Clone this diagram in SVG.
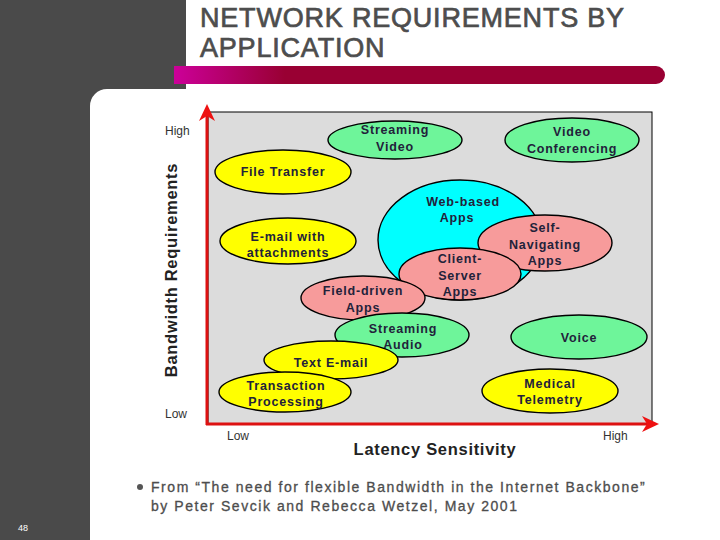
<svg xmlns="http://www.w3.org/2000/svg" width="720" height="540" viewBox="0 0 720 540">
<defs>
<linearGradient id="bar" gradientUnits="userSpaceOnUse" x1="174" y1="0" x2="285" y2="0">
<stop offset="0" stop-color="#cc0099"/>
<stop offset="1" stop-color="#990033"/>
</linearGradient>
<style>
.g{fill:#6ef59a}.y{fill:#ffff00}.c{fill:#00ffff}.p{fill:#f79b9b}
ellipse{stroke:#000;stroke-width:1.4}
.lb{font-family:"Liberation Sans",Arial,sans-serif;font-weight:bold;font-size:12.5px;letter-spacing:0.8px;fill:#22223a;text-anchor:middle}
.ax{font-family:"Liberation Sans",Arial,sans-serif;font-size:12px;fill:#333}
.at{font-family:"Liberation Sans",Arial,sans-serif;font-weight:bold;font-size:16.5px;letter-spacing:0.7px;fill:#222}
.ti{font-family:"Liberation Sans",Arial,sans-serif;font-size:27px;letter-spacing:0.8px;fill:#4d4d4d;stroke:#4d4d4d;stroke-width:0.7}
.ft{font-family:"Liberation Sans",Arial,sans-serif;font-size:14px;letter-spacing:1.55px;fill:#4d4d4d;stroke:#4d4d4d;stroke-width:0.3}
</style>
</defs>
<rect width="720" height="540" fill="#fff"/>
<path d="M0 0H186V89H107A17 17 0 0 0 90 106V540H0Z" fill="#4a4a4a"/>
<text class="ti" x="200" y="27">NETWORK REQUIREMENTS BY</text>
<text class="ti" x="200" y="57">APPLICATION</text>
<path d="M174 66H656A9 9 0 0 1 656 84H174Z" fill="url(#bar)"/>
<rect x="208" y="112" width="444" height="312" fill="#dcdcdc" stroke="#000" stroke-width="1"/>
<g id="axes">
<line x1="207" y1="425" x2="207" y2="114" stroke="#dd1111" stroke-width="3"/>
<line x1="206" y1="424" x2="648" y2="424" stroke="#dd1111" stroke-width="3"/>
<polygon points="207,104 215,121 207,116 199,121" fill="#ee1111"/>
<polygon points="659,424 642,416 647,424 642,432" fill="#ee1111"/>
</g>
<text class="ax" x="165" y="135">High</text>
<text class="ax" x="165" y="418">Low</text>
<text class="ax" x="227" y="440">Low</text>
<text class="ax" x="603" y="440">High</text>
<text class="at" transform="translate(177 270) rotate(-90)" text-anchor="middle">Bandwidth Requirements</text>
<text class="at" x="435" y="455" text-anchor="middle">Latency Sensitivity</text>
<g id="streaming-video"><ellipse class="g" cx="395" cy="140" rx="67" ry="19"/><text class="lb" x="395" y="134">Streaming</text><text class="lb" x="395" y="151">Video</text></g>
<g id="video-conferencing"><ellipse class="g" cx="572" cy="140" rx="67" ry="22"/><text class="lb" x="572" y="136">Video</text><text class="lb" x="572" y="153">Conferencing</text></g>
<g id="file-transfer"><ellipse class="y" cx="283" cy="172" rx="68" ry="22"/><text class="lb" x="283" y="176">File Transfer</text></g>
<g id="email-attachments"><ellipse class="y" cx="288" cy="241" rx="68" ry="23"/><text class="lb" x="288" y="241">E-mail with</text><text class="lb" x="288" y="257">attachments</text></g>
<g id="web-based"><ellipse class="c" cx="460" cy="240" rx="82" ry="60"/><text class="lb" x="463" y="206">Web-based</text><text class="lb" x="457" y="222">Apps</text></g>
<g id="self-navigating"><ellipse class="p" cx="545" cy="243" rx="67" ry="28"/><text class="lb" x="545" y="232">Self-</text><text class="lb" x="545" y="249">Navigating</text><text class="lb" x="545" y="265">Apps</text></g>
<g id="client-server"><ellipse class="p" cx="460" cy="274" rx="61" ry="26"/><text class="lb" x="460" y="263">Client-</text><text class="lb" x="460" y="280">Server</text><text class="lb" x="460" y="296">Apps</text></g>
<g id="field-driven"><ellipse class="p" cx="363" cy="298" rx="62" ry="22"/><text class="lb" x="363" y="295">Field-driven</text><text class="lb" x="363" y="312">Apps</text></g>
<g id="streaming-audio"><ellipse class="g" cx="402" cy="335" rx="67" ry="22"/><text class="lb" x="403" y="333">Streaming</text><text class="lb" x="403" y="349">Audio</text></g>
<g id="text-email"><ellipse class="y" cx="331" cy="360" rx="67" ry="19"/><text class="lb" x="331" y="367">Text E-mail</text></g>
<g id="transaction"><ellipse class="y" cx="285" cy="392" rx="66" ry="20"/><text class="lb" x="286" y="390">Transaction</text><text class="lb" x="286" y="406">Processing</text></g>
<g id="voice"><ellipse class="g" cx="579" cy="337" rx="68" ry="22"/><text class="lb" x="579" y="342">Voice</text></g>
<g id="medical"><ellipse class="y" cx="550" cy="391" rx="68" ry="22"/><text class="lb" x="550" y="388">Medical</text><text class="lb" x="550" y="404">Telemetry</text></g>
<circle cx="140" cy="487" r="3" fill="#555"/>
<text class="ft" x="151" y="492">From “The need for flexible Bandwidth in the Internet Backbone”</text>
<text class="ft" x="151" y="511">by Peter Sevcik and Rebecca Wetzel, May 2001</text>
<text x="18" y="531" font-family="Liberation Sans,Arial,sans-serif" font-size="9" fill="#fff">48</text>
</svg>
